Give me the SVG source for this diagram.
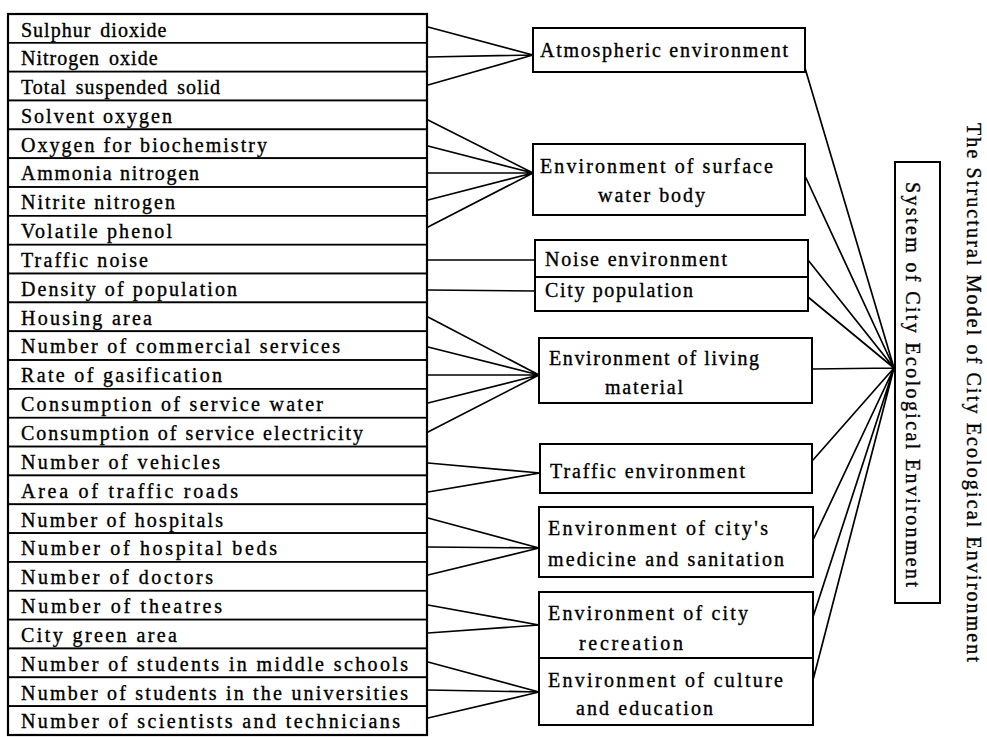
<svg xmlns="http://www.w3.org/2000/svg" width="987" height="737" viewBox="0 0 987 737">
<style>
  .bg{fill:#ffffff}
  .row{fill:#ffffff;stroke:#000;stroke-width:1.7}
  .frame{fill:none;stroke:#000;stroke-width:2.2}
  .box{fill:#ffffff;stroke:#000;stroke-width:2}
  .t{font-family:"Liberation Serif","Times New Roman",serif;font-size:20px;fill:#000;stroke:#000;stroke-width:0.35}
  .w{letter-spacing:1px;word-spacing:3px}
  .c{fill:none;stroke:#000;stroke-width:1.7;stroke-linecap:round}
</style>
<rect class="bg" x="0" y="0" width="987" height="737"/>

<g id="connectors">
  <path class="c" d="M428,27 L533,55 M428,57 L533,55 M428,85 L533,55"/>
  <path class="c" d="M428,120 L533,173 M428,146 L533,173 M428,173 L533,173 M428,200 L533,173 M428,227 L533,173"/>
  <path class="c" d="M428,260 L535,260 M428,290 L535,291"/>
  <path class="c" d="M428,317 L539,375 M428,347 L539,375 M428,375 L539,375 M428,403 L539,375 M428,432 L539,375"/>
  <path class="c" d="M428,463 L540,473 M428,492 L540,473"/>
  <path class="c" d="M428,518 L539,548 M428,547 L539,548 M428,575 L539,548"/>
  <path class="c" d="M428,605 L539,625 M428,633 L539,625"/>
  <path class="c" d="M428,662 L539,692 M428,690 L539,692 M428,718 L539,692"/>
  <path class="c" d="M805,68 L894,368 M806,178 L894,368 M808,260 L894,368 M808,297 L894,368 M812,369 L894,368 M813,460 L894,368 M813,540 L894,368 M813,617 L894,368 M813,680 L894,368"/>
</g>

<g id="indicators">
  <g id="r1"><rect class="row" x="8" y="14" width="419" height="28.84"/><text class="t w" x="21" y="37">Sulphur dioxide</text></g>
  <g id="r2"><rect class="row" x="8" y="42.84" width="419" height="28.84"/><text class="t w" x="21" y="65">Nitrogen oxide</text></g>
  <g id="r3"><rect class="row" x="8" y="71.68" width="419" height="28.84"/><text class="t w" x="21" y="94">Total suspended solid</text></g>
  <g id="r4"><rect class="row" x="8" y="100.52" width="419" height="28.84"/><text class="t" x="21" y="122.5" textLength="151" lengthAdjust="spacing">Solvent oxygen</text></g>
  <g id="r5"><rect class="row" x="8" y="129.36" width="419" height="28.84"/><text class="t" x="21" y="151.5" textLength="246" lengthAdjust="spacing">Oxygen for biochemistry</text></g>
  <g id="r6"><rect class="row" x="8" y="158.2" width="419" height="28.84"/><text class="t" x="21" y="180" textLength="178" lengthAdjust="spacing">Ammonia nitrogen</text></g>
  <g id="r7"><rect class="row" x="8" y="187.04" width="419" height="28.84"/><text class="t" x="21" y="209" textLength="154" lengthAdjust="spacing">Nitrite nitrogen</text></g>
  <g id="r8"><rect class="row" x="8" y="215.88" width="419" height="28.84"/><text class="t" x="21" y="238" textLength="151" lengthAdjust="spacing">Volatile phenol</text></g>
  <g id="r9"><rect class="row" x="8" y="244.72" width="419" height="28.84"/><text class="t" x="21" y="267" textLength="127" lengthAdjust="spacing">Traffic noise</text></g>
  <g id="r10"><rect class="row" x="8" y="273.56" width="419" height="28.84"/><text class="t" x="21" y="295.5" textLength="216" lengthAdjust="spacing">Density of population</text></g>
  <g id="r11"><rect class="row" x="8" y="302.4" width="419" height="28.84"/><text class="t" x="21" y="324.5" textLength="131" lengthAdjust="spacing">Housing area</text></g>
  <g id="r12"><rect class="row" x="8" y="331.24" width="419" height="28.84"/><text class="t" x="21" y="353" textLength="319" lengthAdjust="spacing">Number of commercial services</text></g>
  <g id="r13"><rect class="row" x="8" y="360.08" width="419" height="28.84"/><text class="t" x="21" y="382" textLength="201" lengthAdjust="spacing">Rate of gasification</text></g>
  <g id="r14"><rect class="row" x="8" y="388.92" width="419" height="28.84"/><text class="t" x="21" y="411" textLength="302" lengthAdjust="spacing">Consumption of service water</text></g>
  <g id="r15"><rect class="row" x="8" y="417.76" width="419" height="28.84"/><text class="t" x="21" y="440" textLength="342" lengthAdjust="spacing">Consumption of service electricity</text></g>
  <g id="r16"><rect class="row" x="8" y="446.6" width="419" height="28.84"/><text class="t" x="21" y="468.5" textLength="199" lengthAdjust="spacing">Number of vehicles</text></g>
  <g id="r17"><rect class="row" x="8" y="475.44" width="419" height="28.84"/><text class="t" x="21" y="497.5" textLength="217" lengthAdjust="spacing">Area of traffic roads</text></g>
  <g id="r18"><rect class="row" x="8" y="504.28" width="419" height="28.84"/><text class="t" x="21" y="526.5" textLength="202" lengthAdjust="spacing">Number of hospitals</text></g>
  <g id="r19"><rect class="row" x="8" y="533.12" width="419" height="28.84"/><text class="t" x="21" y="555" textLength="256" lengthAdjust="spacing">Number of hospital beds</text></g>
  <g id="r20"><rect class="row" x="8" y="561.96" width="419" height="28.84"/><text class="t" x="21" y="584" textLength="192" lengthAdjust="spacing">Number of doctors</text></g>
  <g id="r21"><rect class="row" x="8" y="590.8" width="419" height="28.84"/><text class="t" x="21" y="613" textLength="201" lengthAdjust="spacing">Number of theatres</text></g>
  <g id="r22"><rect class="row" x="8" y="619.64" width="419" height="28.84"/><text class="t" x="21" y="641.5" textLength="156" lengthAdjust="spacing">City green area</text></g>
  <g id="r23"><rect class="row" x="8" y="648.48" width="419" height="28.84"/><text class="t" x="21" y="670.5" textLength="387" lengthAdjust="spacing">Number of students in middle schools</text></g>
  <g id="r24"><rect class="row" x="8" y="677.32" width="419" height="28.84"/><text class="t" x="21" y="699.5" textLength="387" lengthAdjust="spacing">Number of students in the universities</text></g>
  <g id="r25"><rect class="row" x="8" y="706.16" width="419" height="28.84"/><text class="t" x="21" y="728" textLength="379" lengthAdjust="spacing">Number of scientists and technicians</text></g>
  <rect class="frame" x="8" y="14" width="419" height="721"/>
</g>

<g id="atmospheric">
  <rect class="box" x="533" y="28" width="272" height="44"/>
  <text class="t" x="540" y="57" textLength="248" lengthAdjust="spacing">Atmospheric environment</text>
</g>
<g id="surface-water">
  <rect class="box" x="533" y="144" width="272" height="71"/>
  <text class="t" x="540" y="173" textLength="233" lengthAdjust="spacing">Environment of surface</text>
  <text class="t" x="598" y="202" textLength="107" lengthAdjust="spacing">water body</text>
</g>
<g id="noise">
  <rect class="box" x="535" y="240" width="273" height="37"/>
  <text class="t" x="545" y="266" textLength="182" lengthAdjust="spacing">Noise environment</text>
</g>
<g id="population">
  <rect class="box" x="535" y="277" width="273" height="34"/>
  <text class="t" x="545" y="297" textLength="148" lengthAdjust="spacing">City population</text>
</g>
<g id="living">
  <rect class="box" x="539" y="338" width="273" height="65"/>
  <text class="t" x="549" y="365" textLength="210" lengthAdjust="spacing">Environment of living</text>
  <text class="t" x="605" y="394" textLength="78" lengthAdjust="spacing">material</text>
</g>
<g id="traffic">
  <rect class="box" x="540" y="444" width="272" height="49"/>
  <text class="t" x="550" y="478" textLength="195" lengthAdjust="spacing">Traffic environment</text>
</g>
<g id="medicine">
  <rect class="box" x="539" y="507" width="274" height="70"/>
  <text class="t" x="548" y="535" textLength="220" lengthAdjust="spacing">Environment of city's</text>
  <text class="t" x="548" y="566" textLength="236" lengthAdjust="spacing">medicine and sanitation</text>
</g>
<g id="recreation">
  <rect class="box" x="539" y="592" width="274" height="66"/>
  <text class="t" x="548" y="620" textLength="200" lengthAdjust="spacing">Environment of city</text>
  <text class="t" x="579" y="650" textLength="104" lengthAdjust="spacing">recreation</text>
</g>
<g id="culture">
  <rect class="box" x="539" y="658" width="274" height="67"/>
  <text class="t" x="548" y="687" textLength="235" lengthAdjust="spacing">Environment of culture</text>
  <text class="t" x="576" y="715" textLength="137" lengthAdjust="spacing">and education</text>
</g>

<g id="system">
  <rect class="box" x="895" y="162" width="45" height="441"/>
  <text class="t" transform="translate(906,182) rotate(90)" x="0" y="0" textLength="405" lengthAdjust="spacing">System of City Ecological Environment</text>
</g>

<g id="title">
  <text class="t" transform="translate(967,123) rotate(90)" x="0" y="0" textLength="539" lengthAdjust="spacing">The Structural Model of City Ecological Environment</text>
</g>
</svg>
